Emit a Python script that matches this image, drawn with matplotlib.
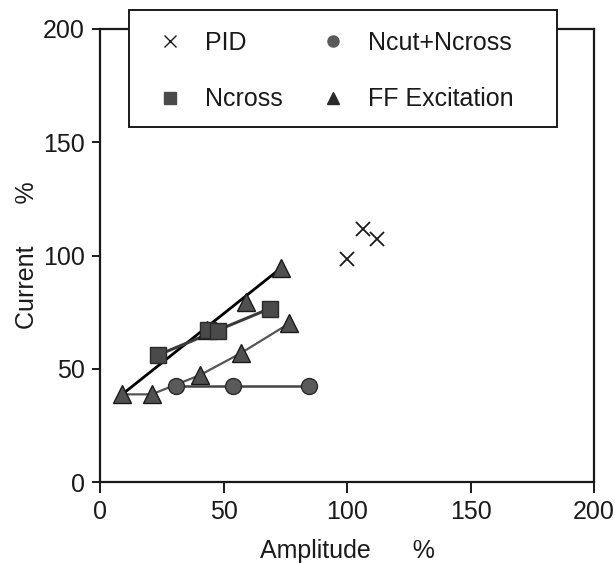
import matplotlib
matplotlib.use("Agg")
import matplotlib.pyplot as plt
from matplotlib.lines import Line2D
from matplotlib.patches import Rectangle

plt.rcParams['font.family'] = ['Liberation Sans', 'DejaVu Sans']

# Data
pid_x = [100, 106.5, 112]
pid_y = [98.5, 111.5, 107.5]

ncross_x = [23.6, 43.8, 47.9, 68.8]
ncross_y = [56.1, 67.1, 66.8, 76.6]

ncut_x = [30.8, 53.9, 84.7]
ncut_y = [42.4, 42.4, 42.4]

ff1_x = [9.0, 43.2, 59.3, 73.2]
ff1_y = [38.7, 67.1, 79.3, 94.4]

ff2_x = [9.0, 20.9, 40.5, 57.2, 76.6]
ff2_y = [38.7, 38.7, 47.2, 57.0, 70.0]

xticks = [0, 50, 100, 150, 200]
yticks = [0, 50, 100, 150, 200]

fig = plt.figure(figsize=(6.15, 5.63), dpi=100)
ax = fig.add_axes([100/615, 1-482/563, 494/615, 453/563])

mk_face = '#505050'
# lines
ax.plot([ff1_x[0], ff1_x[-1]], [ff1_y[0], ff1_y[-1]], color='black', lw=2.0, zorder=2)
ax.plot([ncross_x[0], ncross_x[-1]], [ncross_y[0], ncross_y[-1]], color='#3a3a3a', lw=2.2, zorder=2)
ax.plot(ff2_x, ff2_y, color='#555555', lw=1.6, zorder=2)
ax.plot(ncut_x, ncut_y, color='#444444', lw=1.8, zorder=2)

# markers
ax.plot(ff1_x, ff1_y, ls='none', marker='^', ms=13, mfc=mk_face, mec='#1a1a1a', mew=1.0, zorder=3)
ax.plot(ff2_x[1:], ff2_y[1:], ls='none', marker='^', ms=13, mfc=mk_face, mec='#1a1a1a', mew=1.0, zorder=3)
ax.plot(ncross_x, ncross_y, ls='none', marker='s', ms=11.5, mfc='#4a4a4a', mec='#2a2a2a', mew=1.0, zorder=3)
ax.plot(ncut_x, ncut_y, ls='none', marker='o', ms=11.5, mfc='#5a5a5a', mec='#2a2a2a', mew=1.0, zorder=3)
ax.plot(pid_x, pid_y, ls='none', marker='x', ms=10, mec='#1a1a1a', mew=1.3, zorder=3)

ax.set_xlim(0, 200)
ax.set_ylim(0, 200)
ax.set_xticks(xticks)
ax.set_yticks(yticks)
ax.tick_params(direction='out', width=1.4, labelsize=18, color='#1a1a1a', labelcolor='#1a1a1a')
ax.tick_params(axis='x', length=8, pad=5)
ax.tick_params(axis='y', length=6, pad=5)
for s in ax.spines.values():
    s.set_linewidth(1.6)
    s.set_color('#1a1a1a')

ax.set_xlabel('Amplitude      %', fontsize=18, color='#1a1a1a', labelpad=11)
ax.set_ylabel('Current      %', fontsize=18, color='#1a1a1a', labelpad=3)

# legend frame
rect = Rectangle((129/615, 1-127/563), 428/615, 117/563, transform=fig.transFigure,
                 facecolor='white', edgecolor='#1a1a1a', lw=1.4, zorder=3)
fig.add_artist(rect)

handles = [
    Line2D([], [], ls='none', marker='x', ms=9, mec='#1a1a1a', mew=1.0),
    Line2D([], [], ls='none', marker='s', ms=8, mfc='#4a4a4a', mec='#4a4a4a'),
    Line2D([], [], ls='none', marker='o', ms=8, mfc='#5a5a5a', mec='#5a5a5a'),
    Line2D([], [], ls='none', marker='^', ms=8, mfc='#2a2a2a', mec='#2a2a2a'),
]
labels = ['PID', 'Ncross', 'Ncut+Ncross', 'FF Excitation']
leg = fig.legend(handles, labels, loc='upper left', bbox_to_anchor=(150/615, 1-31/563),
                 frameon=False, ncol=2, fontsize=18, handlelength=1.6, handletextpad=0.6,
                 columnspacing=1.2, labelspacing=1.3, borderpad=0, borderaxespad=0)
leg.set_zorder(5)
for t in leg.get_texts():
    t.set_color('#1a1a1a')

fig.savefig('out.png', dpi=100)
